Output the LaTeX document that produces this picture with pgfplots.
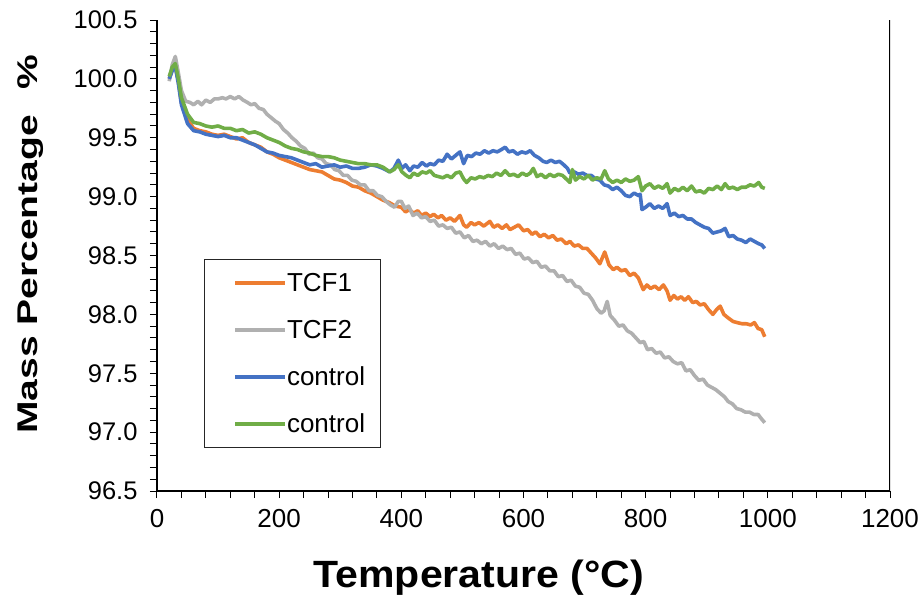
\documentclass[border=0pt]{standalone}
\usepackage{fontspec}
\setmainfont{Liberation Sans}
\usepackage{pgfplots}
\pgfplotsset{compat=1.18}
\definecolor{cOrange}{RGB}{237,125,49}
\definecolor{cGray}{RGB}{176,176,176}
\definecolor{cBlue}{RGB}{68,114,196}
\definecolor{cGreen}{RGB}{112,173,71}
\begin{document}
\begin{tikzpicture}
\begin{axis}[
  scale only axis, width=733pt, height=471pt,
  xmin=0, xmax=1200, ymin=96.5, ymax=100.5,
  xtick={0,200,400,600,800,1000,1200},
  ytick={96.5,97,97.5,98,98.5,99,99.5,100,100.5},
  minor x tick num=4, minor y tick num=4,
  axis x line*=bottom, axis y line*=left,
  axis line style={line width=1.2pt, -},
  tick align=outside, major tick length=7pt, minor tick length=7pt,
  tick style={black, line width=1pt},
  /pgf/number format/assume math mode=true,
  xticklabel style={font=\fontsize{26}{30}\selectfont, yshift=-8pt,
    /pgf/number format/1000 sep={}},
  yticklabel style={font=\fontsize{25.5}{28}\selectfont, xshift=-9pt,
    /pgf/number format/.cd, fixed, fixed zerofill, precision=1},
  xlabel={\scalebox{1.08}[1]{\fontsize{38}{40}\selectfont\bfseries Temperature (°C)}},
  xlabel style={at={(axis description cs:0.439,-0.1837)}, anchor=center},
  ylabel={\scalebox{1.3}[0.95]{\fontsize{30}{32}\selectfont\bfseries Mass Percentage\hspace{0.65em}\%}},
  ylabel style={at={(axis description cs:-0.1726,0.5234)}, anchor=center},
  legend style={at={(axis description cs:0.064,0.4926)}, anchor=north west,
    draw=black!85, line width=1pt, fill=white,
    font=\fontsize{26}{30}\selectfont,
    inner xsep=15pt, inner ysep=0pt, row sep=0pt,
    nodes={inner sep=0pt, minimum height=47pt, anchor=west},
    /tikz/every even column/.append style={column sep=4pt}},
  legend cell align=left,
  legend image code/.code={\path (-14pt,0pt); \draw[#1] (0pt,0pt) -- (50pt,0pt);},
  every axis plot/.append style={line width=3.6pt, line join=round},
]
\addplot[cOrange] coordinates {
(20,100.00)(25,100.08)(30,100.12)(35,99.98)(40,99.80)(50,99.65)(60,99.58)(70,99.56)(80,99.55)(90,99.53)
(100,99.52)(110,99.53)(120,99.51)(130,99.49)(140,99.50)(150,99.46)(160,99.44)(170,99.42)(180,99.38)(190,99.36)
(200,99.33)(210,99.31)(220,99.29)(230,99.27)(240,99.25)(250,99.23)(260,99.22)(270,99.21)(280,99.18)(290,99.15)
(300,99.14)(310,99.12)(320,99.09)(330,99.08)(340,99.05)(350,99.03)(360,99.00)(370,98.97)(380,98.95)(390,98.92)
(400,98.91)(407,98.87)(413,98.89)(420,98.86)(427,98.88)(433,98.84)(440,98.86)(447,98.83)(453,98.85)(460,98.82)
(466,98.84)(473,98.80)(480,98.82)(487,98.79)(496,98.84)(502,98.76)(507,98.74)(514,98.78)(520,98.76)(527,98.78)
(535,98.75)(545,98.79)(551,98.74)(558,98.76)(565,98.73)(572,98.76)(578,98.72)(585,98.74)(592,98.76)(600,98.71)
(607,98.72)(614,98.68)(620,98.70)(627,98.66)(634,98.68)(641,98.65)(648,98.67)(655,98.63)(662,98.64)(670,98.60)
(676,98.62)(683,98.58)(690,98.59)(697,98.56)(704,98.56)(711,98.52)(718,98.48)(725,98.43)(733,98.53)(740,98.42)
(747,98.38)(753,98.40)(760,98.37)(767,98.38)(774,98.33)(781,98.35)(788,98.31)(796,98.21)(802,98.25)(808,98.22)
(815,98.24)(822,98.21)(829,98.25)(835,98.20)(840,98.12)(846,98.16)(852,98.13)(858,98.15)(864,98.12)(870,98.15)
(877,98.10)(883,98.11)(889,98.08)(896,98.09)(903,98.04)(910,98.00)(916,98.04)(922,98.07)(928,98.00)(935,97.97)
(943,97.94)(950,97.93)(958,97.92)(965,97.92)(972,97.91)(978,97.93)(984,97.88)(990,97.87)(995,97.81)
};
\addlegendentry{TCF1}
\addplot[cGray] coordinates {
(20,99.98)(25,100.12)(30,100.19)(35,100.05)(40,99.90)(47,99.81)(54,99.80)(60,99.78)(67,99.81)(73,99.78)
(80,99.82)(87,99.80)(94,99.83)(100,99.83)(107,99.84)(113,99.83)(120,99.85)(127,99.83)(134,99.85)(141,99.82)
(148,99.80)(154,99.78)(160,99.79)(167,99.75)(174,99.74)(180,99.70)(187,99.67)(194,99.64)
(200,99.62)(207,99.57)(214,99.54)(221,99.50)(228,99.47)(235,99.43)(242,99.41)(249,99.36)(256,99.37)(263,99.33)
(270,99.32)(277,99.28)(284,99.27)(291,99.23)(298,99.22)(305,99.18)(312,99.18)(319,99.14)(326,99.13)(333,99.10)
(340,99.10)(347,99.05)(354,99.05)(361,99.01)(368,99.00)(375,98.96)(382,98.93)(389,98.91)(395,98.96)
(400,98.96)(406,98.90)(412,98.92)(419,98.84)(426,98.86)(433,98.82)(440,98.83)(447,98.79)(454,98.80)(461,98.75)
(468,98.76)(475,98.73)(482,98.74)(489,98.69)(496,98.70)(503,98.65)(510,98.67)(517,98.62)(524,98.63)(531,98.60)
(538,98.62)(545,98.58)(552,98.60)(559,98.56)(566,98.58)(573,98.55)(580,98.56)(587,98.51)(594,98.52)(601,98.47)
(608,98.48)(615,98.44)(622,98.45)(629,98.40)(636,98.41)(643,98.37)(650,98.37)(657,98.32)(664,98.33)(671,98.28)
(678,98.29)(685,98.24)(692,98.23)(699,98.18)(706,98.17)(713,98.12)(720,98.05)(727,98.01)(732,98.03)(737,98.11)
(742,97.99)(749,97.95)(756,97.90)(763,97.91)(770,97.86)(777,97.84)(784,97.80)(791,97.76)(797,97.77)(803,97.70)
(810,97.71)(817,97.67)(824,97.68)(831,97.63)(838,97.64)(845,97.60)(852,97.58)(859,97.59)(866,97.52)(873,97.53)
(880,97.48)(887,97.44)(894,97.45)(901,97.40)(908,97.38)(915,97.36)(922,97.33)(929,97.30)(935,97.26)(942,97.24)
(949,97.20)(956,97.19)(963,97.17)(970,97.17)(977,97.15)(984,97.15)(990,97.11)(995,97.08)
};
\addlegendentry{TCF2}
\addplot[cBlue] coordinates {
(20,100.00)(25,100.07)(30,100.10)(35,99.96)(40,99.78)(50,99.62)(60,99.56)(70,99.55)(80,99.53)(90,99.52)
(100,99.51)(110,99.52)(120,99.50)(130,99.50)(140,99.48)(150,99.46)(160,99.44)(170,99.41)(180,99.38)(190,99.37)
(200,99.35)(210,99.34)(220,99.33)(230,99.31)(240,99.29)(250,99.27)(260,99.28)(270,99.25)(280,99.26)(290,99.27)
(300,99.25)(310,99.26)(320,99.24)(330,99.24)(340,99.25)(350,99.27)(360,99.26)(370,99.24)
(381,99.21)(388,99.24)(395,99.31)(401,99.24)(407,99.27)(414,99.22)(420,99.26)(427,99.25)(434,99.29)(441,99.26)
(447,99.28)(454,99.27)(461,99.31)(468,99.30)(475,99.36)(482,99.32)(489,99.35)(496,99.38)(502,99.28)(508,99.35)
(515,99.34)(522,99.37)(529,99.36)(536,99.39)(543,99.37)(550,99.39)(557,99.38)(564,99.40)(570,99.42)(576,99.38)
(583,99.39)(590,99.36)(597,99.38)(604,99.37)(611,99.39)(618,99.35)(625,99.33)(632,99.30)(638,99.29)(645,99.31)
(652,99.29)(659,99.30)(666,99.27)(672,99.24)(676,99.20)(683,99.21)(690,99.19)(697,99.20)(704,99.18)(711,99.18)
(718,99.15)(725,99.14)(732,99.10)(739,99.09)(746,99.06)(753,99.08)(760,99.05)(767,99.01)(774,99.00)(781,99.03)
(788,99.01)(791,99.02)(794,98.89)(800,98.91)(807,98.94)(814,98.90)(821,98.92)(828,98.90)(835,98.94)(840,98.84)
(847,98.86)(854,98.83)(861,98.84)(868,98.81)(875,98.81)(882,98.78)(889,98.76)(896,98.74)(903,98.73)(910,98.69)
(917,98.70)(924,98.71)(930,98.73)(936,98.66)(943,98.67)(950,98.64)(957,98.63)(964,98.61)(971,98.64)(978,98.62)
(985,98.60)(990,98.59)(995,98.56)
};
\addlegendentry{control}
\addplot[cGreen] coordinates {
(20,100.02)(25,100.10)(30,100.13)(35,100.00)(40,99.84)(50,99.70)(60,99.63)(70,99.62)(80,99.60)(90,99.59)
(100,99.60)(110,99.58)(120,99.58)(130,99.56)(140,99.57)(150,99.54)(160,99.55)(170,99.53)(180,99.50)(190,99.48)
(200,99.46)(210,99.43)(220,99.41)(230,99.40)(240,99.38)(250,99.37)(260,99.35)(270,99.34)(280,99.34)(290,99.33)
(300,99.31)(310,99.30)(320,99.29)(330,99.28)(340,99.28)(350,99.27)(360,99.27)(370,99.25)
(381,99.21)(388,99.23)(395,99.27)(401,99.21)(408,99.18)(414,99.16)(420,99.20)(427,99.18)(434,99.21)(441,99.20)
(447,99.22)(454,99.18)(461,99.17)(468,99.16)(475,99.18)(482,99.16)(489,99.20)(496,99.21)(502,99.15)(507,99.12)
(514,99.16)(521,99.15)(528,99.17)(535,99.16)(542,99.18)(549,99.17)(556,99.20)(563,99.18)(570,99.22)(577,99.18)
(584,99.19)(591,99.17)(598,99.20)(605,99.18)(611,99.20)(616,99.24)(622,99.17)(629,99.19)(636,99.16)(643,99.19)
(650,99.17)(657,99.19)(664,99.18)(670,99.15)(676,99.12)(680,99.23)(685,99.14)(692,99.17)(699,99.15)(706,99.18)
(713,99.14)(720,99.16)(727,99.15)(733,99.22)(739,99.15)(746,99.12)(753,99.14)(760,99.12)(767,99.15)(774,99.13)
(781,99.14)(788,99.17)(794,99.05)(800,99.09)(807,99.11)(814,99.07)(821,99.09)(828,99.07)(835,99.11)(840,99.03)
(847,99.07)(854,99.05)(861,99.08)(868,99.05)(875,99.09)(882,99.04)(889,99.05)(896,99.03)(903,99.07)(910,99.06)
(917,99.09)(924,99.06)(930,99.11)(936,99.07)(943,99.08)(950,99.06)(957,99.08)(964,99.08)(971,99.10)(978,99.09)
(985,99.12)(990,99.08)(995,99.07)
};
\addlegendentry{control}
\draw[line width=1.2pt] (rel axis cs:1,0) -- (rel axis cs:1,1);
\end{axis}
\pgfresetboundingbox
\path (-157pt,-107pt) rectangle (767pt,491pt);
\end{tikzpicture}
\end{document}
